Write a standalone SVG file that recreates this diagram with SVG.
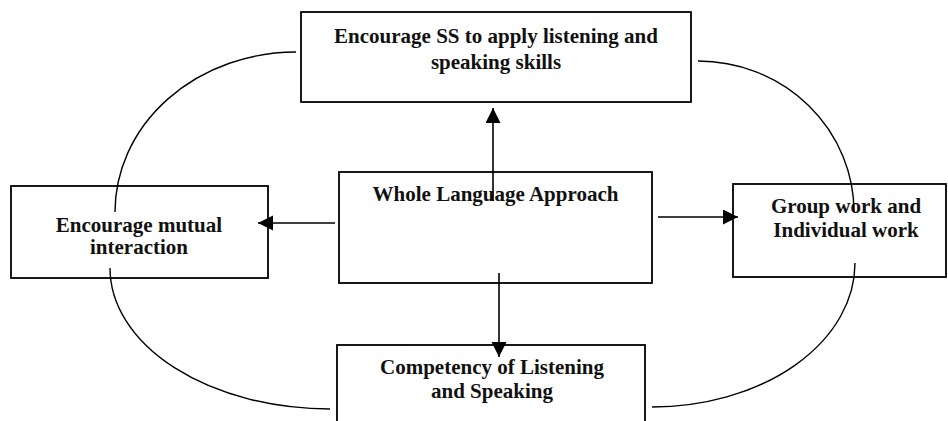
<svg xmlns="http://www.w3.org/2000/svg" width="948" height="421" viewBox="0 0 948 421">
<style>
.box{fill:#fff;stroke:#000;stroke-width:1.8}
.t{font-family:"Liberation Serif","Times New Roman",serif;font-weight:bold;font-size:21px;fill:#111;text-anchor:middle}
.arc{fill:none;stroke:#000;stroke-width:1.4}
.arr{fill:none;stroke:#000;stroke-width:1.6;marker-end:url(#ah)}
</style>
<defs>
<marker id="ah" markerUnits="userSpaceOnUse" markerWidth="16" markerHeight="16" refX="15" refY="7.5" orient="auto">
<path d="M0,0 L15,7.5 L0,15 z" fill="#000"/>
</marker>
</defs>
<rect width="948" height="421" fill="#fff"/>
<g id="node-apply">
<rect class="box" x="301" y="12" width="390" height="90"/>
<text class="t" x="496" y="43">Encourage SS to apply listening and</text>
<text class="t" x="496" y="69">speaking skills</text>
</g>
<g id="node-whole">
<rect class="box" x="339" y="172" width="313" height="111"/>
<text class="t" x="495.5" y="201">Whole Language Approach</text>
</g>
<g id="node-mutual">
<rect class="box" x="11" y="186" width="257" height="92"/>
<text class="t" x="139" y="232">Encourage mutual</text>
<text class="t" x="139" y="254">interaction</text>
</g>
<g id="node-group">
<rect class="box" x="733" y="184" width="213" height="93"/>
<text class="t" x="846" y="213">Group work and</text>
<text class="t" x="846" y="237">Individual work</text>
</g>
<g id="node-competency">
<rect class="box" x="337" y="345" width="308" height="82"/>
<text class="t" x="492" y="374">Competency of Listening</text>
<text class="t" x="492" y="398">and Speaking</text>
</g>
<g id="connectors">
<path class="arc" d="M296,52 A181,160 0 0 0 115,212"/>
<path class="arc" d="M698,61 A156,151 0 0 1 854,212"/>
<path class="arc" d="M110,268 A220,141 0 0 0 330,409"/>
<path class="arc" d="M855,263 A203,144 0 0 1 652,407"/>
<line class="arr" x1="493" y1="201" x2="493" y2="108"/>
<line class="arr" x1="335" y1="223" x2="258" y2="223"/>
<line class="arr" x1="658" y1="217" x2="738" y2="217"/>
<line class="arr" x1="499" y1="273" x2="499" y2="357"/>
</g>
</svg>
